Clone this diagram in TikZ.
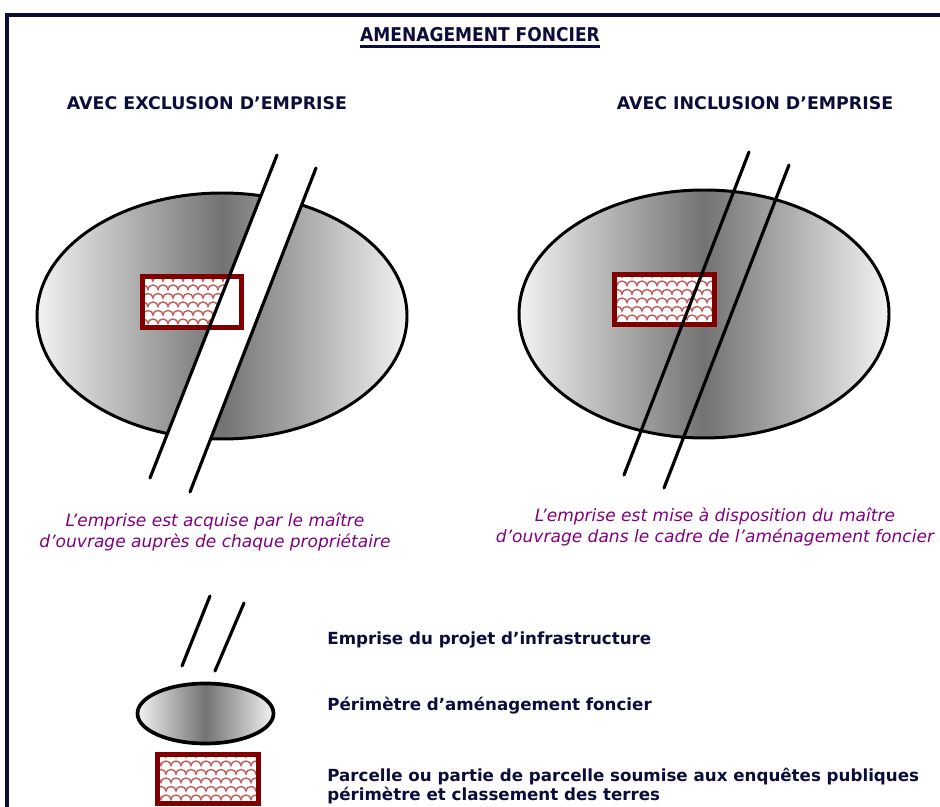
\documentclass[tikz,border=0pt]{standalone}
\usepackage{fontspec}
\setmainfont{DejaVu Sans}
\newfontfamily\condfont{DejaVu Sans Condensed}
\usetikzlibrary{calc}

\definecolor{navy}{RGB}{12,12,58}
\definecolor{parcelred}{RGB}{128,0,0}
\definecolor{hatchred}{RGB}{190,95,95}
\definecolor{notepurple}{RGB}{128,0,128}

\tikzset{
  heading/.style={font=\bfseries\fontsize{9.9}{12}\selectfont, text=navy, inner sep=0pt},
  note/.style={font=\itshape\fontsize{9.7}{11.5}\selectfont, text=notepurple, align=center, inner sep=0pt},
  legendtext/.style={font=\bfseries\fontsize{9.5}{11.2}\selectfont, text=navy, anchor=west, align=left, inner sep=0pt},
  perimetre/.style={draw=black, line width=1.7pt, left color=white!95!black, right color=white!95!black, middle color=black!55},
  emprise/.style={line width=1.8pt, line cap=round},
  parcelle/.style={draw=parcelred, line width=2.8pt},
}

% scale hatch inside a box: #1,#2 top left  #3,#4 bottom right
\newcommand{\parcelhatch}[4]{%
  \begin{scope}
    \fill[white] (#1,#2) rectangle (#3,#4);
    \clip (#1,#2) rectangle (#3,#4);
    \foreach \r in {0,...,7}{
      \pgfmathsetmacro{\xs}{#1-12+mod(\r,2)*5}
      \pgfmathsetmacro{\ys}{#2+2+\r*8.5}
      \draw[hatchred, line width=0.8pt] (\xs,\ys)
        \foreach \k in {0,...,13}{ arc (180:360:5 and 4.5) };
    }
  \end{scope}}

\begin{document}
\begin{tikzpicture}[x=0.02cm, y=-0.02cm]
  \useasboundingbox (0,0) rectangle (940,807);
  \draw[navy, line width=2.3pt] (7,807) -- (7,15) -- (940,15);

  % titles
  \node[heading, font=\condfont\bfseries\fontsize{10.8}{12}\selectfont] (titre) at (480,35) {AMENAGEMENT FONCIER};
  \draw[navy, line width=1.6pt] ($(titre.south west)+(0,4)$) -- ($(titre.south east)+(0,4)$);
  \node[heading] (excl) at (207,103) {AVEC EXCLUSION D’EMPRISE};
  \node[heading] (incl) at (755,103) {AVEC INCLUSION D’EMPRISE};

  % left: exclusion
  \coordinate (la1) at (277,155);
  \coordinate (la2) at (150,478);
  \coordinate (lb1) at (316,168);
  \coordinate (lb2) at (190,492);
  \draw[perimetre] (222,316) ellipse (185 and 123);
  \parcelhatch{145}{279}{239}{325}
  \fill[white] (la1) -- (lb1) -- (lb2) -- (la2) -- cycle;
  \draw[parcelle] (142.5,276.5) rectangle (241.5,327.5);
  \draw[emprise] (la1) -- (la2);
  \draw[emprise] (lb1) -- (lb2);

  % right: inclusion
  \coordinate (ra1) at (749,152);
  \coordinate (ra2) at (624,475);
  \coordinate (rb1) at (789,165);
  \coordinate (rb2) at (664,488);
  \draw[perimetre] (704,314) ellipse (185 and 124);
  \parcelhatch{614}{275}{715}{324}
  \draw[parcelle] (614.5,274.5) rectangle (714.5,324.5);
  \draw[emprise] (ra1) -- (ra2);
  \draw[emprise] (rb1) -- (rb2);

  % notes
  \node[note] (noteexcl) at (215,532) {L’emprise est acquise par le maître\\d’ouvrage auprès de chaque propriétaire};
  \node[note] (noteincl) at (715,527) {L’emprise est mise à disposition du maître\\d’ouvrage dans le cadre de l’aménagement foncier};

  % legend
  \coordinate (ka1) at (210,596);
  \coordinate (ka2) at (182,666);
  \coordinate (kb1) at (244,603);
  \coordinate (kb2) at (215,671);
  \draw[emprise] (ka1) -- (ka2);
  \draw[emprise] (kb1) -- (kb2);
  \draw[perimetre, line width=2.1pt] (205.5,713.5) ellipse (68 and 30);
  \parcelhatch{158}{755}{258}{803}
  \draw[parcelle] (157.5,754.5) rectangle (258.5,803.5);

  \node[legendtext] (lemprise) at (327,640) {Emprise du projet d’infrastructure};
  \node[legendtext] (lperim) at (327,706) {Périmètre d’aménagement foncier};
  \node[legendtext] (lparcelle) at (327,786) {Parcelle ou partie de parcelle soumise aux enquêtes publiques\\périmètre et classement des terres};
\end{tikzpicture}
\end{document}
